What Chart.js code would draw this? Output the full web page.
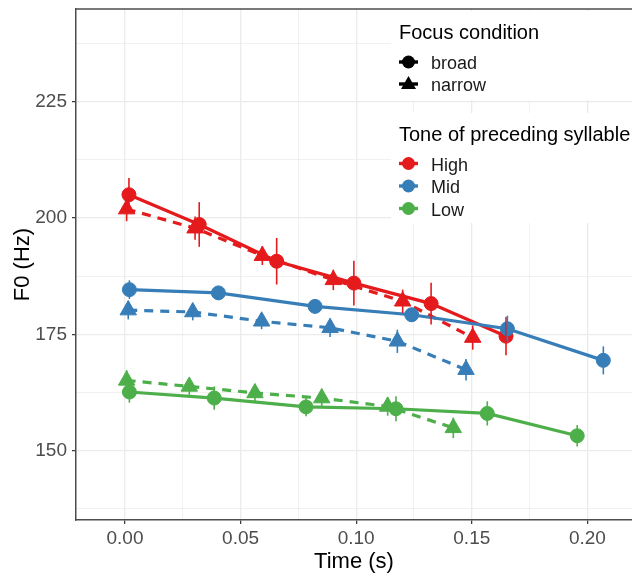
<!DOCTYPE html>
<html>
<head>
<meta charset="utf-8">
<script src="https://cdn.jsdelivr.net/npm/chart.js@4.4.1/dist/chart.umd.min.js"></script>
<style>
  html, body { margin: 0; padding: 0; background: #fff; }
</style>
</head>
<body>
<canvas id="chart" width="632" height="573"></canvas>
<script>
// values: time (s), mean F0 (Hz), error bar half-length (Hz)
const highBroadT = [0.0017, 0.0321, 0.0656, 0.0990, 0.1324, 0.1648];
const highBroadF0 = [205.0, 198.6, 190.7, 186.0, 181.6, 174.6];
const highBroadErr = [3.6, 4.8, 5.0, 4.8, 4.5, 4.1];

const highNarrowT = [0.0007, 0.0303, 0.0594, 0.0901, 0.1201, 0.1504];
const highNarrowF0 = [201.9, 197.8, 191.9, 186.7, 182.1, 174.3];
const highNarrowErr = [2.6, 2.5, 2.0, 2.2, 2.5, 2.6];

const midBroadT = [0.0019, 0.0404, 0.0822, 0.1240, 0.1654, 0.2069];
const midBroadF0 = [184.6, 183.9, 181.0, 179.2, 176.2, 169.4];
const midBroadErr = [2.0, 1.5, 1.5, 1.5, 2.8, 3.0];

const midNarrowT = [0.0014, 0.0293, 0.0591, 0.0887, 0.1178, 0.1475];
const midNarrowF0 = [180.2, 179.8, 177.8, 176.4, 173.5, 167.4];
const midNarrowErr = [2.0, 1.8, 1.7, 2.0, 2.5, 2.3];

const lowBroadT = [0.0019, 0.0386, 0.0783, 0.1172, 0.1567, 0.1956];
const lowBroadF0 = [162.6, 161.3, 159.4, 159.0, 158.0, 153.2];
const lowBroadErr = [2.3, 2.5, 2.0, 2.7, 2.6, 2.3];

const lowNarrowT = [0.0007, 0.0278, 0.0562, 0.0851, 0.1136, 0.1420];
const lowNarrowF0 = [165.1, 163.8, 162.4, 161.3, 159.5, 154.9];
const lowNarrowErr = [2.2, 1.8, 1.8, 2.0, 2.0, 2.2];

const toneLabels = ["High", "Mid", "Low"];
const toneColors = ["#E41A1C", "#377EB8", "#4DAF4A"];
const focusLabels = ["broad", "narrow"];

const xMajorTicks = [0, 0.05, 0.10, 0.15, 0.20];
const xMinorTicks = [0.025, 0.075, 0.125, 0.175];
const yMajorTicks = [150, 175, 200, 225];
const yMinorTicks = [137.5, 162.5, 187.5, 212.5, 237.5];

const FONT = "'Liberation Sans', Arial, sans-serif";

const series = [
  { tone: 0, focus: 0, t: highBroadT, f0: highBroadF0, err: highBroadErr },
  { tone: 0, focus: 1, t: highNarrowT, f0: highNarrowF0, err: highNarrowErr },
  { tone: 1, focus: 0, t: midBroadT, f0: midBroadF0, err: midBroadErr },
  { tone: 1, focus: 1, t: midNarrowT, f0: midNarrowF0, err: midNarrowErr },
  { tone: 2, focus: 0, t: lowBroadT, f0: lowBroadF0, err: lowBroadErr },
  { tone: 2, focus: 1, t: lowNarrowT, f0: lowNarrowF0, err: lowNarrowErr },
];

function pts(s) {
  return s.t.map((t, i) => ({ x: t, y: s.f0[i] }));
}

const datasets = [];
// lines underneath (higher order = drawn first)
series.forEach(s => {
  datasets.push({
    data: pts(s),
    borderColor: toneColors[s.tone],
    borderWidth: 3.2,
    borderDash: s.focus === 1 ? [9, 7] : [],
    pointRadius: 0,
    showLine: true,
    order: 40 - s.tone,
  });
});
// points on top
series.forEach(s => {
  datasets.push({
    data: pts(s),
    showLine: false,
    backgroundColor: toneColors[s.tone],
    borderColor: toneColors[s.tone],
    pointStyle: s.focus === 0 ? "circle" : "triangle",
    pointRadius: s.focus === 0 ? 7 : 9.5,
    pointBorderWidth: 1,
    order: 20 - s.tone,
  });
});

const isIn = (arr, v) => arr.some(a => Math.abs(a - v) < 1e-9);

const errorBars = {
  id: "errorBars",
  afterDatasetsDraw(chart) {
    const { ctx, scales: { x, y } } = chart;
    ctx.save();
    ctx.lineWidth = 1.6;
    series.forEach(s => {
      ctx.strokeStyle = toneColors[s.tone];
      s.t.forEach((t, i) => {
        const px = x.getPixelForValue(t);
        ctx.beginPath();
        ctx.moveTo(px, y.getPixelForValue(s.f0[i] - s.err[i]));
        ctx.lineTo(px, y.getPixelForValue(s.f0[i] + s.err[i]));
        ctx.stroke();
      });
    });
    ctx.restore();
  },
};

const panelTop = {
  id: "panelTop",
  afterDraw(chart) {
    const { ctx, chartArea } = chart;
    ctx.save();
    ctx.strokeStyle = "#4d4d4d";
    ctx.lineWidth = 1.5;
    ctx.beginPath();
    ctx.moveTo(chartArea.left, chartArea.top);
    ctx.lineTo(chartArea.right, chartArea.top);
    ctx.stroke();
    ctx.restore();
  },
};

function legendKey(ctx, cx, cy, color, shape) {
  ctx.fillStyle = color;
  ctx.strokeStyle = color;
  ctx.lineWidth = 3.4;
  ctx.beginPath();
  ctx.moveTo(cx - 9.5, cy);
  ctx.lineTo(cx + 9.5, cy);
  ctx.stroke();
  ctx.beginPath();
  if (shape === "circle") {
    ctx.arc(cx, cy, 6.5, 0, Math.PI * 2);
  } else {
    ctx.moveTo(cx, cy - 8);
    ctx.lineTo(cx + 7.5, cy + 5);
    ctx.lineTo(cx - 7.5, cy + 5);
    ctx.closePath();
  }
  ctx.fill();
}

const ggLegend = {
  id: "ggLegend",
  afterDraw(chart) {
    const ctx = chart.ctx;
    ctx.save();
    ctx.fillStyle = "#fff";
    ctx.fillRect(391, 11, 241, 89);
    ctx.fillRect(391, 113, 241, 110);

    ctx.fillStyle = "#000";
    ctx.textBaseline = "alphabetic";
    ctx.font = "20px " + FONT;
    ctx.fillText("Focus condition", 399, 39);
    ctx.fillText("Tone of preceding syllable", 399, 141);

    ctx.font = "18px " + FONT;
    const fy = [62, 84];
    focusLabels.forEach((lab, i) => {
      legendKey(ctx, 408.5, fy[i], "#000", i === 0 ? "circle" : "triangle");
      ctx.fillStyle = "#1a1a1a";
      ctx.fillText(lab, 431, fy[i] + 7);
    });
    const ty = [163.5, 186, 208.5];
    toneLabels.forEach((lab, i) => {
      legendKey(ctx, 408.5, ty[i], toneColors[i], "circle");
      ctx.fillStyle = "#1a1a1a";
      ctx.fillText(lab, 431, ty[i] + 7);
    });
    ctx.restore();
  },
};

new Chart(document.getElementById("chart"), {
  type: "line",
  data: { datasets },
  options: {
    responsive: false,
    animation: false,
    devicePixelRatio: 1,
    layout: { autoPadding: false, padding: { top: 9, right: 0, left: 0, bottom: 0 } },
    plugins: { legend: { display: false }, tooltip: { enabled: false } },
    scales: {
      x: {
        type: "linear",
        min: -0.0212,
        max: 0.2193,
        afterBuildTicks: s => {
          s.ticks = [...xMajorTicks, ...xMinorTicks].sort((a, b) => a - b).map(v => ({ value: v }));
        },
        afterFit: s => { s.height = 53; s.paddingLeft = 0; s.paddingRight = 0; },
        grid: {
          color: "#ebebeb",
          lineWidth: c => (isIn(xMajorTicks, c.tick.value) ? 1.3 : 0.7),
          tickLength: 4,
          tickWidth: 1.2,
          tickColor: c => (isIn(xMajorTicks, c.tick.value) ? "#333" : "rgba(0,0,0,0)"),
        },
        border: { display: true, color: "#4d4d4d", width: 1.5 },
        ticks: {
          autoSkip: false,
          maxRotation: 0,
          padding: 3,
          color: "#4d4d4d",
          font: { family: FONT, size: 19 },
          callback: v => (isIn(xMajorTicks, v) ? v.toFixed(2) : ""),
        },
        title: {
          display: true,
          text: "Time (s)",
          color: "#000",
          font: { family: FONT, size: 22 },
          padding: { top: 0, bottom: -2 },
        },
      },
      y: {
        type: "linear",
        min: 135.1,
        max: 244.9,
        afterBuildTicks: s => {
          s.ticks = [...yMajorTicks, ...yMinorTicks].sort((a, b) => a - b).map(v => ({ value: v }));
        },
        afterFit: s => { s.width = 76; s.paddingTop = 0; s.paddingBottom = 0; },
        grid: {
          color: "#ebebeb",
          lineWidth: c => (isIn(yMajorTicks, c.tick.value) ? 1.3 : 0.7),
          tickLength: 4,
          tickWidth: 1.2,
          tickColor: c => (isIn(yMajorTicks, c.tick.value) ? "#333" : "rgba(0,0,0,0)"),
        },
        border: { display: true, color: "#4d4d4d", width: 1.5 },
        ticks: {
          autoSkip: false,
          padding: 5,
          color: "#4d4d4d",
          font: { family: FONT, size: 19 },
          callback: v => (isIn(yMajorTicks, v) ? String(v) : ""),
        },
        title: {
          display: true,
          text: "F0 (Hz)",
          color: "#000",
          font: { family: FONT, size: 22 },
          padding: { top: 10, bottom: 0 },
        },
      },
    },
  },
  plugins: [errorBars, panelTop, ggLegend],
});
</script>
</body>
</html>
